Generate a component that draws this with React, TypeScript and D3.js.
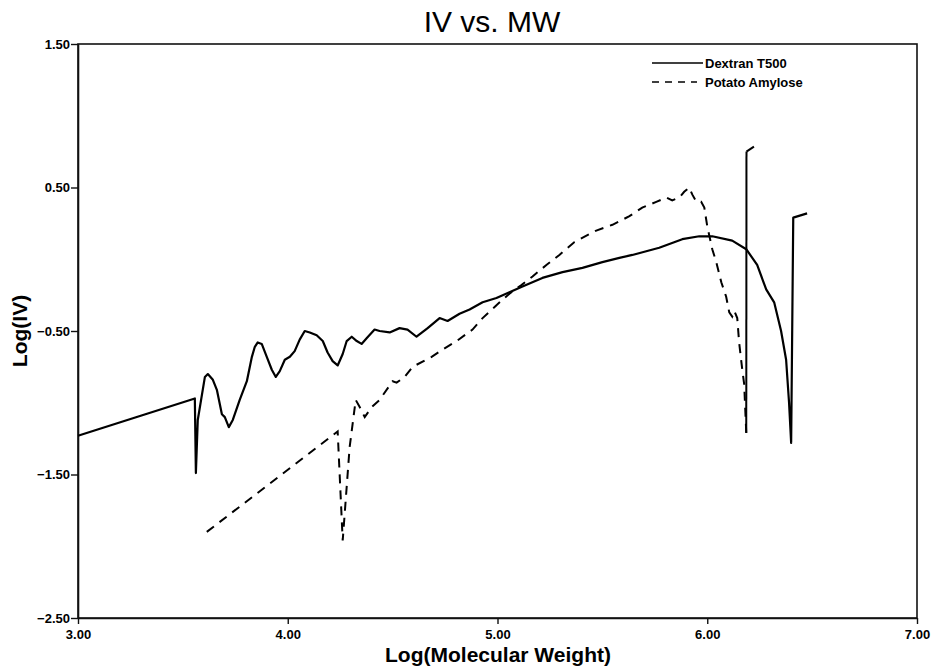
import React, { useEffect, useRef } from "react";
import * as d3 from "d3";

// Dextran T500: log(MW) vs log(IV)
const dextranX = [3.0, 3.557, 3.562, 3.571, 3.605, 3.619, 3.643, 3.662, 3.686, 3.7, 3.719, 3.738, 3.771, 3.805, 3.829, 3.843, 3.857, 3.876, 3.9, 3.924, 3.943, 3.962, 3.986, 4.01, 4.033, 4.057, 4.081, 4.105, 4.138, 4.167, 4.19, 4.214, 4.238, 4.262, 4.281, 4.305, 4.329, 4.352, 4.376, 4.414, 4.438, 4.486, 4.533, 4.571, 4.614, 4.667, 4.724, 4.762, 4.819, 4.867, 4.929, 4.995, 5.057, 5.119, 5.214, 5.31, 5.405, 5.5, 5.581, 5.643, 5.771, 5.881, 5.962, 6.024, 6.119, 6.186, 6.238, 6.281, 6.319, 6.352, 6.376, 6.39, 6.4, 6.41, 6.476];
const dextranY = [-1.23, -0.97, -1.49, -1.12, -0.82, -0.8, -0.84, -0.91, -1.08, -1.1, -1.17, -1.12, -0.98, -0.85, -0.68, -0.61, -0.58, -0.59, -0.68, -0.77, -0.82, -0.78, -0.7, -0.68, -0.64, -0.56, -0.5, -0.51, -0.53, -0.57, -0.65, -0.71, -0.74, -0.66, -0.57, -0.54, -0.57, -0.59, -0.55, -0.49, -0.5, -0.51, -0.48, -0.49, -0.54, -0.48, -0.41, -0.43, -0.38, -0.35, -0.3, -0.27, -0.23, -0.19, -0.13, -0.09, -0.06, -0.02, 0.01, 0.03, 0.08, 0.14, 0.16, 0.16, 0.13, 0.07, -0.04, -0.21, -0.3, -0.5, -0.7, -1.0, -1.28, 0.29, 0.32];

// Potato Amylose
const amyloseX = [3.614, 4.238, 4.262, 4.295, 4.324, 4.343, 4.367, 4.4, 4.438, 4.5, 4.519, 4.557, 4.595, 4.686, 4.738, 4.805, 4.881, 4.929, 4.995, 5.057, 5.114, 5.167, 5.233, 5.295, 5.367, 5.471, 5.548, 5.629, 5.69, 5.757, 5.805, 5.833, 5.867, 5.89, 5.914, 5.929, 5.948, 5.971, 5.986, 6.0, 6.024, 6.043, 6.067, 6.09, 6.105, 6.119, 6.129, 6.143, 6.152, 6.167, 6.176, 6.186, 6.187, 6.238];
const amyloseY = [-1.9, -1.2, -1.96, -1.31, -0.98, -1.03, -1.1, -1.03, -0.98, -0.85, -0.86, -0.82, -0.75, -0.68, -0.63, -0.57, -0.49, -0.41, -0.32, -0.24, -0.18, -0.12, -0.04, 0.03, 0.12, 0.2, 0.24, 0.3, 0.36, 0.4, 0.43, 0.41, 0.43, 0.47, 0.5, 0.45, 0.4, 0.4, 0.36, 0.23, 0.07, -0.02, -0.16, -0.26, -0.37, -0.4, -0.36, -0.41, -0.58, -0.77, -0.87, -1.21, 0.75, 0.8];
// the vertical jump at the end of the amylose trace prints as a solid stroke
const amyloseSolidFrom = 51;

const xTicks = [3, 4, 5, 6, 7];
const yTicks = [1.5, 0.5, -0.5, -1.5, -2.5];
const seriesNames = ["Dextran T500", "Potato Amylose"];

const W = 933;
const H = 671;
const font = "'Liberation Sans', Arial, sans-serif";

const App = () => {
  const ref = useRef<SVGSVGElement>(null);

  useEffect(() => {
    const margin = { top: 44, right: 16, bottom: 53, left: 78 };
    const svg = d3.select(ref.current);
    svg.selectAll("*").remove();

    const x = d3.scaleLinear().domain([3, 7]).range([margin.left, W - margin.right]);
    const y = d3.scaleLinear().domain([-2.5, 1.5]).range([H - margin.bottom, margin.top]);

    // frame
    svg.append("rect")
      .attr("x", x(3)).attr("y", y(1.5))
      .attr("width", x(7) - x(3)).attr("height", y(-2.5) - y(1.5))
      .attr("fill", "none").attr("stroke", "#111").attr("stroke-width", 1.6);

    const xAxis = svg.append("g")
      .attr("transform", `translate(0,${y(-2.5)})`)
      .call(d3.axisBottom(x).tickValues(xTicks).tickFormat(d3.format(".2f")).tickSize(6).tickSizeOuter(0));
    const yAxis = svg.append("g")
      .attr("transform", `translate(${x(3)},0)`)
      .call(d3.axisLeft(y).tickValues(yTicks).tickFormat(d3.format(".2f")).tickSize(7).tickSizeOuter(0));

    [xAxis, yAxis].forEach(g => {
      g.select(".domain").attr("stroke", "#111").attr("stroke-width", 1.6);
      g.selectAll(".tick line").attr("stroke", "#111").attr("stroke-width", 1.4);
      g.selectAll(".tick text")
        .attr("fill", "#000")
        .attr("font-family", font)
        .attr("font-weight", "bold")
        .attr("font-size", 13);
    });
    xAxis.selectAll(".tick text").attr("dy", "0.9em");
    yAxis.selectAll(".tick text").attr("x", -8);

    const line = d3.line<[number, number]>()
      .x(d => x(d[0]))
      .y(d => y(d[1]));

    const dextran = dextranX.map((v, i) => [v, dextranY[i]] as [number, number]);
    const amylose = amyloseX.map((v, i) => [v, amyloseY[i]] as [number, number]);

    svg.append("path")
      .attr("d", line(dextran))
      .attr("fill", "none").attr("stroke", "#000").attr("stroke-width", 2.2)
      .attr("stroke-linejoin", "round");

    svg.append("path")
      .attr("d", line(amylose.slice(0, amyloseSolidFrom + 1)))
      .attr("fill", "none").attr("stroke", "#000").attr("stroke-width", 2)
      .attr("stroke-dasharray", "9,7");
    svg.append("path")
      .attr("d", line(amylose.slice(amyloseSolidFrom, amyloseSolidFrom + 2)))
      .attr("fill", "none").attr("stroke", "#000").attr("stroke-width", 2);
    svg.append("path")
      .attr("d", line(amylose.slice(amyloseSolidFrom + 1)))
      .attr("fill", "none").attr("stroke", "#000").attr("stroke-width", 2)
      .attr("stroke-dasharray", "9,7");

    // legend
    const legend = svg.append("g");
    seriesNames.forEach((name, i) => {
      const ly = 63 + i * 19;
      legend.append("line")
        .attr("x1", 652).attr("x2", i === 0 ? 703 : 697)
        .attr("y1", ly).attr("y2", ly)
        .attr("stroke", "#000").attr("stroke-width", 1.5)
        .attr("stroke-dasharray", i === 0 ? null : "7,6");
      legend.append("text")
        .attr("x", 705).attr("y", ly)
        .attr("dy", "0.35em")
        .attr("font-family", font).attr("font-weight", "bold").attr("font-size", 13)
        .text(name);
    });

    // titles
    svg.append("text")
      .attr("x", 492).attr("y", 32)
      .attr("text-anchor", "middle")
      .attr("font-family", font).attr("font-size", 30)
      .text("IV vs. MW");

    svg.append("text")
      .attr("x", 498).attr("y", 662)
      .attr("text-anchor", "middle")
      .attr("font-family", font).attr("font-weight", "bold").attr("font-size", 21)
      .text("Log(Molecular Weight)");

    svg.append("text")
      .attr("transform", `translate(27,${(y(1.5) + y(-2.5)) / 2}) rotate(-90)`)
      .attr("text-anchor", "middle")
      .attr("font-family", font).attr("font-weight", "bold").attr("font-size", 21)
      .text("Log(IV)");
  }, []);

  return (
    <svg ref={ref} width={W} height={H} style={{ position: "absolute", left: 0, top: 0, background: "#fff" }} />
  );
};

export default App;
